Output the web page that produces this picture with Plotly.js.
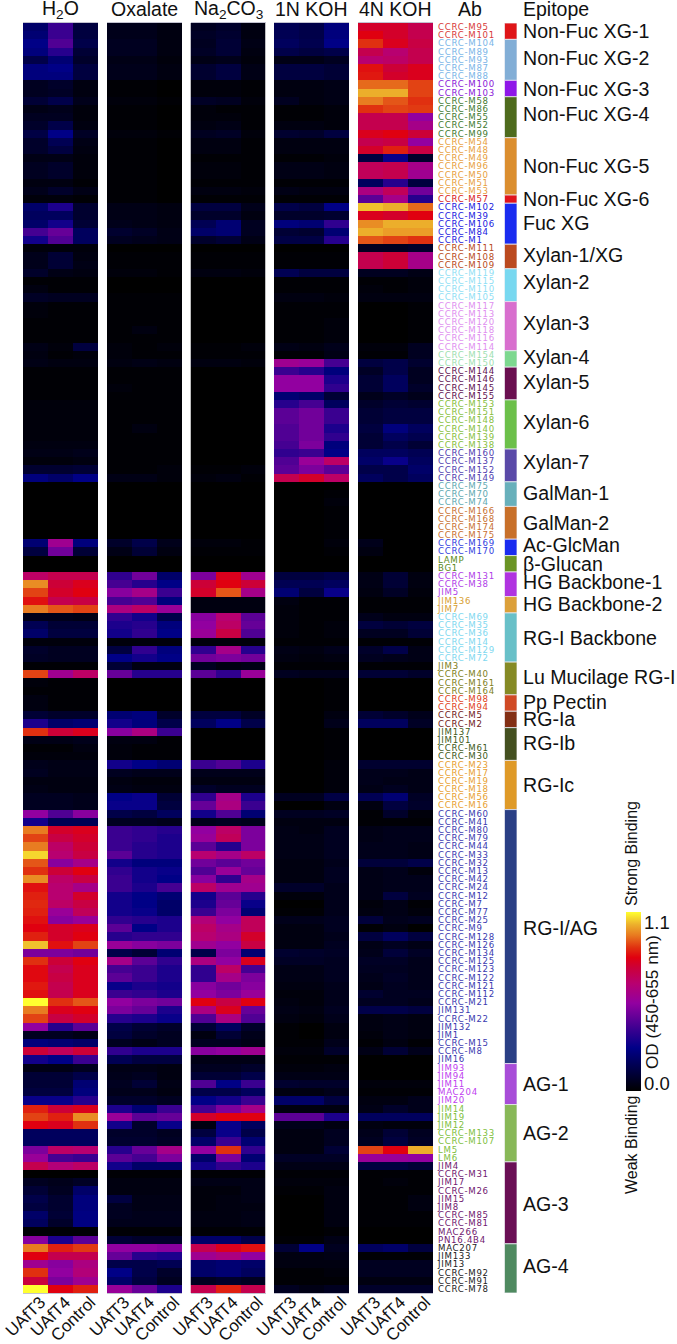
<!DOCTYPE html>
<html><head><meta charset="utf-8">
<script src="https://cdn.plot.ly/plotly-3.0.1.min.js"></script>
<style>html,body{margin:0;padding:0;background:#fff}.ytick text{letter-spacing:.72px}</style></head>
<body><div id="chart" style="width:677px;height:1344px"></div>
<script>
// Optical density x 100. Each row: UAfT3, UAfT4, Control
const treatments=["UAfT3","UAfT4","Control"];
const panelNames=["H<sub>2</sub>O","Oxalate","Na<sub>2</sub>CO<sub>3</sub>","1N KOH","4N KOH"];
const epitopes=["Non-Fuc XG-1","Non-Fuc XG-2","Non-Fuc XG-3","Non-Fuc XG-4","Non-Fuc XG-5","Non-Fuc XG-6","Fuc XG","Xylan-1/XG","Xylan-2","Xylan-3","Xylan-4","Xylan-5","Xylan-6","Xylan-7","GalMan-1","GalMan-2","Ac-GlcMan","β-Glucan","HG Backbone-1","HG Backbone-2","RG-I Backbone","Lu Mucilage RG-I","Pp Pectin","RG-Ia","RG-Ib","RG-Ic","RG-I/AG","AG-1","AG-2","AG-3","AG-4"];
const epitopeColors=["#df1518","#82aed6","#8f17e8","#4e6b1d","#db8e2f","#e0141b","#1a2cf0","#bb4a1f","#78d8f0","#d86fce","#7dd88f","#6a0f50","#6cc04a","#5a4aa8","#68b0bb","#c8702a","#1a2cf0","#6a9425","#b034e0","#dca03a","#68c0c8","#858a25","#d04a25","#832f14","#445020","#df9a28","#2a3f85","#a84dd8","#88b858","#6a0f55","#4f8a60"];
const labelColors=["#d83a3a","#7ab5e8","#8a20d8","#3f7a30","#e8a040","#d82020","#2020e0","#b84a20","#90e0f5","#e090f0","#a0e0b0","#601050","#88c040","#5040b0","#60a8b0","#c87030","#3040e0","#5a8a20","#b040e8","#d8a030","#80d8f0","#808020","#e04020","#702018","#405a20","#e8a030","#3a3ab0","#c040f0","#80c040","#701870","#222222"];
const nameOffsets=[0,-2,0,-3,0,0,-1,-2,-3,-3,-2,-2,-2,-3,-1,0,-2,0,-2,-1,0,-1,-1,0,-1,0,-9,0,0,1,-2];
const antibodies=[
["CCRC-M95","CCRC-M101"],
["CCRC-M104","CCRC-M89","CCRC-M93","CCRC-M87","CCRC-M88"],
["CCRC-M100","CCRC-M103"],
["CCRC-M58","CCRC-M86","CCRC-M55","CCRC-M52","CCRC-M99"],
["CCRC-M54","CCRC-M48","CCRC-M49","CCRC-M96","CCRC-M50","CCRC-M51","CCRC-M53"],
["CCRC-M57"],
["CCRC-M102","CCRC-M39","CCRC-M106","CCRC-M84","CCRC-M1"],
["CCRC-M111","CCRC-M108","CCRC-M109"],
["CCRC-M119","CCRC-M115","CCRC-M110","CCRC-M105"],
["CCRC-M117","CCRC-M113","CCRC-M120","CCRC-M118","CCRC-M116","CCRC-M114"],
["CCRC-M154","CCRC-M150"],
["CCRC-M144","CCRC-M146","CCRC-M145","CCRC-M155"],
["CCRC-M153","CCRC-M151","CCRC-M148","CCRC-M140","CCRC-M139","CCRC-M138"],
["CCRC-M160","CCRC-M137","CCRC-M152","CCRC-M149"],
["CCRC-M75","CCRC-M70","CCRC-M74"],
["CCRC-M166","CCRC-M168","CCRC-M174","CCRC-M175"],
["CCRC-M169","CCRC-M170"],
["LAMP","BG1"],
["CCRC-M131","CCRC-M38","JIM5"],
["JIM136","JIM7"],
["CCRC-M69","CCRC-M35","CCRC-M36","CCRC-M14","CCRC-M129","CCRC-M72"],
["JIM3","CCRC-M40","CCRC-M161","CCRC-M164"],
["CCRC-M98","CCRC-M94"],
["CCRC-M5","CCRC-M2"],
["JIM137","JIM101","CCRC-M61","CCRC-M30"],
["CCRC-M23","CCRC-M17","CCRC-M19","CCRC-M18","CCRC-M56","CCRC-M16"],
["CCRC-M60","CCRC-M41","CCRC-M80","CCRC-M79","CCRC-M44","CCRC-M33","CCRC-M32","CCRC-M13","CCRC-M42","CCRC-M24","CCRC-M12","CCRC-M7","CCRC-M77","CCRC-M25","CCRC-M9","CCRC-M128","CCRC-M126","CCRC-M134","CCRC-M125","CCRC-M123","CCRC-M122","CCRC-M121","CCRC-M112","CCRC-M21","JIM131","CCRC-M22","JIM132","JIM1","CCRC-M15","CCRC-M8","JIM16"],
["JIM93","JIM94","JIM11","MAC204","JIM20"],
["JIM14","JIM19","JIM12","CCRC-M133","CCRC-M107","LM5","LM6"],
["JIM4","CCRC-M31","JIM17","CCRC-M26","JIM15","JIM8","CCRC-M85","CCRC-M81","MAC266","PN16.4B4"],
["MAC207","JIM133","JIM13","CCRC-M92","CCRC-M91","CCRC-M78"]];

const h2o=[
[20,38,12],[22,38,12],[26,42,14],[24,34,10],[14,22,8],[24,26,12],[24,24,12],[6,8,3],[6,7,3],[10,14,5],
[4,5,2],[6,6,2],[8,14,3],[13,26,7],[8,16,4],[8,12,3],[4,4,2],[6,8,2],[6,8,2],[3,3,1],
[5,8,4],[2,2,1],[20,32,9],[18,18,9],[20,30,10],[40,46,18],[30,42,18],[2,2,2],[5,10,3],[5,10,4],
[8,4,3],[1,1,1],[3,1,1],[7,6,6],[2,1,1],[2,1,1],[1,1,1],[1,1,1],[1,1,1],[4,2,12],
[3,1,2],[4,3,3],[1,1,1],[1,1,1],[1,1,1],[1,1,1],[2,2,2],[2,2,2],[2,2,2],[2,2,2],
[2,2,2],[3,3,3],[4,4,5],[2,2,3],[9,9,10],[24,20,26],[0,0,0],[0,0,0],[0,0,0],[0,0,0],
[0,0,0],[0,0,0],[0,0,0],[22,58,24],[12,48,10],[0,0,0],[0,0,0],[68,72,72],[98,76,80],[90,78,82],
[84,72,74],[96,92,90],[5,5,4],[16,10,10],[20,12,12],[2,2,2],[8,6,6],[7,6,6],[1,1,1],[90,58,68],
[2,1,1],[1,1,1],[3,1,1],[3,1,1],[10,8,8],[32,20,22],[88,76,80],[4,4,5],[1,1,3],[2,2,2],
[5,4,4],[6,4,4],[3,3,3],[4,3,3],[6,6,5],[6,6,5],[54,42,52],[30,16,16],[96,78,80],[90,74,78],
[96,68,76],[106,66,74],[92,52,60],[88,76,82],[98,68,74],[84,66,60],[86,66,78],[87,68,74],[86,56,70],[84,52,56],
[82,78,80],[86,78,82],[104,84,90],[50,50,48],[88,76,82],[83,72,80],[83,74,80],[85,72,80],[84,72,80],[110,88,92],
[96,80,82],[90,74,78],[54,34,44],[6,6,4],[24,22,20],[76,70,76],[30,26,38],[4,4,6],[10,10,14],[10,10,22],
[12,12,24],[28,28,34],[86,76,80],[90,86,98],[82,80,88],[18,18,18],[18,18,18],[50,68,66],[56,40,38],[72,64,68],
[0,0,0],[6,5,7],[10,6,20],[14,9,24],[12,9,24],[20,10,25],[18,8,25],[1,1,1],[52,32,44],[96,86,89],
[82,72,72],[58,52,62],[88,54,64],[75,50,58],[110,82,86]];

const oxalate=[
[5,5,3],[5,5,3],[6,6,3],[6,6,3],[4,4,2],[5,5,3],[5,5,3],[1,1,0],[1,1,0],[2,2,1],
[1,1,0],[1,1,0],[1,1,0],[2,2,1],[1,1,0],[1,1,0],[1,1,0],[1,1,0],[1,1,0],[1,1,0],
[1,1,0],[1,1,0],[4,4,3],[4,4,3],[5,4,3],[9,7,4],[6,5,4],[0,0,0],[1,1,1],[1,1,1],
[2,2,1],[0,0,0],[0,0,0],[1,1,1],[1,1,1],[1,1,1],[1,1,1],[1,3,1],[1,1,1],[2,1,2],
[2,1,1],[3,4,3],[1,1,1],[1,1,1],[2,1,1],[1,1,1],[1,1,1],[1,1,1],[1,1,1],[1,3,1],
[1,1,1],[1,1,1],[1,1,1],[1,1,1],[1,1,2],[4,4,2],[0,0,0],[0,0,0],[0,0,0],[0,0,0],
[0,0,0],[0,0,0],[0,0,0],[8,14,5],[4,10,3],[0,0,0],[0,0,0],[36,48,20],[40,34,26],[52,60,38],
[40,42,24],[62,68,56],[36,30,14],[32,34,24],[30,36,26],[2,2,2],[12,36,24],[26,30,26],[10,3,3],[46,34,34],
[0,0,0],[0,0,0],[0,0,0],[0,0,0],[22,24,8],[30,24,14],[52,62,38],[3,3,1],[2,1,1],[2,1,1],
[30,26,22],[6,5,5],[3,2,2],[4,3,3],[26,28,10],[28,28,12],[14,12,18],[6,6,5],[38,36,34],[38,36,32],
[38,34,32],[44,34,32],[30,24,24],[36,30,28],[38,30,26],[38,32,40],[30,26,22],[30,26,20],[30,28,20],[36,34,32],
[44,26,32],[34,36,36],[56,52,50],[14,10,22],[60,44,36],[40,38,32],[44,38,32],[28,32,30],[38,36,32],[54,50,48],
[50,46,32],[34,32,28],[14,10,8],[12,8,6],[6,4,6],[36,32,32],[16,12,12],[4,4,3],[5,6,3],[6,10,4],
[5,5,3],[8,8,6],[32,22,38],[56,44,46],[30,8,28],[8,8,6],[9,9,7],[34,46,60],[44,40,50],[30,20,20],
[1,1,1],[3,3,3],[3,3,3],[12,4,4],[6,4,4],[6,5,5],[5,5,5],[1,1,1],[10,8,8],[54,54,52],
[46,34,32],[14,14,16],[26,14,8],[20,12,6],[56,46,32]];

const na2co3=[
[6,8,3],[7,9,3],[6,10,4],[7,10,3],[4,5,2],[9,12,4],[9,12,4],[2,2,1],[2,2,1],[7,6,2],
[2,1,1],[2,2,1],[3,4,1],[6,7,2],[3,3,1],[3,3,1],[1,1,1],[2,2,1],[2,2,1],[1,1,1],
[3,3,2],[1,1,1],[12,12,5],[8,8,3],[16,22,6],[20,22,6],[8,10,4],[0,0,0],[1,1,1],[1,1,1],
[3,3,2],[0,0,0],[0,0,0],[0,0,0],[0,0,0],[0,0,0],[0,0,0],[0,0,0],[0,0,0],[1,1,2],
[1,1,1],[3,3,2],[0,0,0],[0,0,0],[0,0,0],[0,0,0],[0,0,0],[0,0,0],[0,0,0],[0,0,0],
[0,0,0],[0,0,0],[0,0,0],[0,0,0],[1,1,2],[2,3,1],[0,0,0],[0,0,0],[0,0,0],[0,0,0],
[0,0,0],[0,0,0],[0,0,0],[2,2,1],[1,1,1],[0,0,0],[0,0,0],[50,80,58],[76,82,76],[78,92,60],
[3,3,3],[3,3,3],[52,66,44],[54,68,46],[56,74,42],[2,2,2],[36,60,34],[48,50,48],[6,3,4],[44,36,56],
[0,0,0],[0,0,0],[0,0,0],[0,0,0],[12,12,7],[18,26,14],[0,0,0],[0,0,0],[0,0,0],[0,0,0],
[38,42,32],[5,5,5],[3,3,3],[8,6,6],[36,60,32],[46,62,38],[30,42,22],[5,6,5],[54,68,50],[56,70,50],
[44,34,50],[66,60,68],[48,44,48],[42,56,46],[52,36,60],[68,58,58],[30,44,34],[32,46,28],[38,50,22],[64,54,70],
[68,60,70],[66,62,78],[58,54,74],[14,50,22],[62,54,80],[36,68,40],[36,60,50],[52,48,52],[54,50,56],[82,74,82],
[62,80,46],[42,62,42],[10,18,8],[3,10,5],[6,6,4],[52,54,58],[4,4,4],[6,6,8],[10,10,14],[42,26,38],
[14,14,18],[26,30,38],[40,50,60],[78,82,82],[3,28,18],[12,28,14],[20,38,22],[54,88,36],[20,50,22],[30,36,32],
[1,1,1],[4,4,4],[2,2,4],[2,3,4],[2,3,3],[3,3,4],[3,3,4],[1,1,1],[20,20,14],[72,80,84],
[58,62,54],[20,22,20],[20,22,18],[6,8,6],[72,86,72]];

const koh1n=[
[16,14,24],[16,14,24],[18,15,26],[14,12,14],[4,4,6],[12,12,10],[12,12,10],[3,3,4],[3,3,4],[6,3,4],
[1,1,2],[1,1,2],[3,3,2],[9,8,12],[3,3,3],[3,3,3],[1,1,2],[4,4,3],[4,4,3],[1,1,1],
[4,3,3],[1,1,1],[14,12,26],[8,8,9],[24,22,36],[10,9,22],[13,13,34],[0,0,0],[1,1,1],[1,1,1],
[16,12,12],[1,1,1],[1,1,1],[3,3,2],[1,1,1],[1,1,1],[1,1,2],[1,1,2],[1,1,2],[4,3,5],
[1,1,4],[58,56,40],[38,34,24],[54,54,32],[54,54,36],[22,20,10],[34,40,18],[44,48,38],[44,48,38],[42,48,32],
[42,48,36],[40,50,24],[36,38,26],[42,56,68],[44,50,44],[72,78,68],[0,0,0],[0,0,1],[0,0,2],[0,0,1],
[0,0,1],[0,0,1],[0,0,1],[0,0,2],[0,0,1],[0,0,0],[0,0,0],[12,12,14],[16,16,18],[22,12,28],
[3,1,1],[2,1,1],[2,1,1],[2,1,2],[2,1,2],[1,1,1],[4,3,5],[3,2,3],[1,1,1],[6,5,5],
[0,0,1],[0,0,1],[0,0,1],[0,0,1],[0,0,3],[0,0,5],[0,0,1],[0,0,1],[0,0,1],[0,0,1],
[0,0,2],[0,0,2],[0,0,2],[0,0,2],[6,6,13],[0,0,3],[6,6,7],[3,3,3],[4,3,6],[4,4,6],
[4,4,6],[4,4,6],[3,3,5],[3,3,6],[3,3,6],[8,8,5],[2,2,5],[0,0,5],[1,1,5],[5,5,6],
[3,3,6],[3,3,5],[3,3,6],[9,8,7],[7,7,6],[4,4,6],[4,4,6],[3,3,5],[2,2,5],[3,2,5],
[4,3,6],[3,2,5],[1,0,3],[1,0,3],[1,1,5],[2,2,8],[1,1,1],[2,2,3],[4,4,4],[9,8,8],
[3,3,5],[20,20,12],[3,3,3],[44,44,32],[5,5,3],[3,3,6],[3,3,6],[3,3,10],[7,7,7],[4,4,4],
[1,1,1],[2,2,2],[1,1,3],[0,0,3],[0,0,3],[0,0,3],[0,0,3],[0,0,1],[1,1,4],[10,26,6],
[3,3,4],[3,3,3],[1,1,2],[1,1,1],[6,4,6]];

const koh4n=[
[78,78,72],[82,78,72],[88,80,74],[72,66,72],[66,68,72],[84,76,80],[85,78,80],[94,94,90],[102,102,90],[96,92,88],
[88,90,89],[72,72,54],[72,72,60],[80,82,76],[72,74,54],[78,86,74],[12,28,8],[70,72,60],[70,72,58],[18,34,12],
[62,70,48],[44,60,34],[104,102,94],[80,78,82],[98,102,102],[102,100,100],[92,90,88],[6,6,8],[72,76,60],[72,76,60],
[6,6,4],[1,1,2],[2,1,2],[3,3,3],[0,0,1],[0,0,1],[0,0,1],[0,0,1],[0,0,1],[2,2,6],
[1,1,6],[12,14,9],[7,14,6],[10,18,6],[10,18,8],[5,7,5],[8,10,9],[10,12,12],[10,12,12],[12,24,18],
[10,18,15],[10,14,10],[18,18,16],[20,28,18],[14,14,20],[18,14,18],[0,0,0],[0,0,0],[0,0,0],[0,0,0],
[0,0,0],[0,0,0],[0,0,0],[5,0,0],[3,0,0],[0,0,0],[0,0,0],[4,10,3],[4,10,3],[3,7,2],
[1,1,1],[1,1,1],[5,3,3],[12,10,12],[6,6,10],[1,1,1],[8,14,4],[6,5,4],[1,1,1],[10,10,8],
[0,0,0],[0,0,0],[0,0,0],[0,0,0],[10,8,5],[18,18,7],[0,0,0],[0,0,0],[0,0,0],[0,0,0],
[9,9,9],[5,5,4],[5,4,4],[4,6,4],[16,22,7],[3,12,8],[1,8,2],[1,1,1],[4,5,5],[4,5,5],
[5,5,4],[5,5,4],[11,11,14],[4,5,2],[4,5,5],[4,5,5],[4,12,6],[2,4,1],[3,4,2],[11,5,6],
[1,3,0],[12,18,12],[4,6,4],[5,11,7],[7,7,5],[6,6,5],[5,7,5],[4,6,5],[9,6,6],[6,6,5],
[14,14,12],[3,4,3],[3,4,3],[2,4,3],[1,3,1],[4,10,5],[0,0,0],[0,0,0],[0,0,0],[2,2,2],
[1,1,1],[3,3,5],[4,8,5],[18,18,18],[3,2,2],[5,10,6],[6,12,7],[90,82,102],[56,56,54],[12,12,10],
[1,1,1],[1,2,1],[1,1,1],[1,1,3],[1,1,3],[1,1,1],[1,1,1],[0,0,0],[0,0,0],[18,20,12],
[1,1,1],[6,6,6],[6,6,6],[3,3,3],[8,8,8]];

const panels=[h2o,oxalate,na2co3,koh1n,koh4n];
const W=677,H=1344,TOP=23,BOTTOM=1293;
const panelX=[[23,98],[107,182],[190.5,265.5],[274,349],[358,433]];
const px=x=>x/W, py=y=>1-y/H;
const heatScale=[[0,'#000000'],[0.1,'#00003a'],[0.24,'#000088'],[0.345,'#3a0090'],[0.49,'#9200a0'],[0.6,'#b80070'],[0.69,'#cc0038'],[0.745,'#e00010'],[0.8,'#e03010'],[0.87,'#e87a20'],[0.93,'#ecb02c'],[1,'#ffff30']];
const FONT='"Liberation Sans", Arial, sans-serif';
const rows=[].concat(...antibodies).map((_,i)=>i);
const coloredLabels=[];
antibodies.forEach((list,g)=>list.forEach(ab=>coloredLabels.push('<span style="color:'+labelColors[g]+'">'+ab+'</span>')));
const traces=[],annotations=[],layout={
  width:W,height:H,margin:{l:0,r:0,t:0,b:0},paper_bgcolor:'#fff',plot_bgcolor:'#fff',showlegend:false,barmode:'overlay',
  font:{family:FONT,color:'#111'},
  yaxis:{domain:[py(BOTTOM),py(TOP)],range:[154.5,-0.5],anchor:'free',position:px(437),side:'right',tickmode:'array',tickvals:rows,ticktext:coloredLabels,
    ticks:'',ticklen:0,showline:false,showgrid:false,zeroline:false,tickfont:{size:8.6,family:'"DejaVu Sans", sans-serif'},fixedrange:true,automargin:false}
};
panels.forEach((z,i)=>{
  const k=i?String(i+1):'';
  traces.push({type:'heatmap',z:z.map(r=>r.map(v=>v/100)),x:treatments,y:rows,xaxis:'x'+k,yaxis:'y',
    zmin:0,zmax:1.1,colorscale:heatScale,hoverinfo:'skip',showscale:i===0,
    colorbar:i===0?{x:625.5/W,xanchor:'left',xpad:0,ypad:0,y:py(1091),yanchor:'bottom',lenmode:'fraction',len:179/H,thickness:14.5,thicknessmode:'pixels',outlinewidth:0,showticklabels:false,ticks:''}:undefined});
  layout['xaxis'+k]={domain:[px(panelX[i][0]),px(panelX[i][1])],anchor:'y',type:'category',tickangle:-45,ticks:'',ticklen:0,ticklabelstandoff:-8,ticklabelshift:5,
    tickfont:{size:17,family:FONT,color:'#111'},showline:true,linecolor:'#9a9ab0',linewidth:0.6,mirror:true,showgrid:false,zeroline:false,fixedrange:true,automargin:false};
  annotations.push({xref:'paper',yref:'paper',x:px((panelX[i][0]+panelX[i][1])/2),y:py(9.5),text:panelNames[i],showarrow:false,font:{size:19.5,color:'#111'},xanchor:'center',yanchor:'middle'});
});
annotations.push({xref:'paper',yref:'paper',x:px(470),y:py(9.5),text:'Ab',showarrow:false,xanchor:'center',yanchor:'middle',font:{size:19.5,color:'#111'}});
annotations.push({xref:'paper',yref:'paper',x:px(521),y:py(9.5),text:'Epitope',showarrow:false,xanchor:'left',yanchor:'middle',font:{size:19.5,color:'#111'}});
layout.xaxis6={domain:[px(504.5),px(517)],anchor:'y',range:[-0.5,0.5],visible:false,fixedrange:true};
let start=0;
antibodies.forEach((list,g)=>{
  traces.push({type:'bar',x:[0],y:[list.length],base:[start-0.5],width:[1],xaxis:'x6',yaxis:'y',hoverinfo:'skip',
    marker:{color:epitopeColors[g],line:{color:'#e8e8f0',width:0.8}}});
  annotations.push({xref:'paper',yref:'y',x:px(521),y:start+(list.length-1)/2,yshift:-nameOffsets[g],text:epitopes[g],showarrow:false,xanchor:'left',yanchor:'middle',font:{size:19.6,color:'#111'}});
  start+=list.length;
});
const rot=(x,y,t,s)=>annotations.push({xref:'paper',yref:'paper',x:px(x),y:py(y),text:t,textangle:-90,showarrow:false,font:{size:s,color:'#111'},xanchor:'center',yanchor:'middle'});
rot(631,854,'Strong Binding',16);
rot(631,1145,'Weak Binding',16);
rot(652,1002,'OD (450-655 nm)',17.2);
annotations.push({xref:'paper',yref:'paper',x:px(642),y:py(922),text:'1.1',showarrow:false,xanchor:'left',yanchor:'middle',font:{size:18.5,color:'#111'}});
annotations.push({xref:'paper',yref:'paper',x:px(642),y:py(1083),text:'0.0',showarrow:false,xanchor:'left',yanchor:'middle',font:{size:18.5,color:'#111'}});
layout.annotations=annotations;
Plotly.newPlot('chart',traces,layout,{displayModeBar:false,staticPlot:true});
</script></body></html>
